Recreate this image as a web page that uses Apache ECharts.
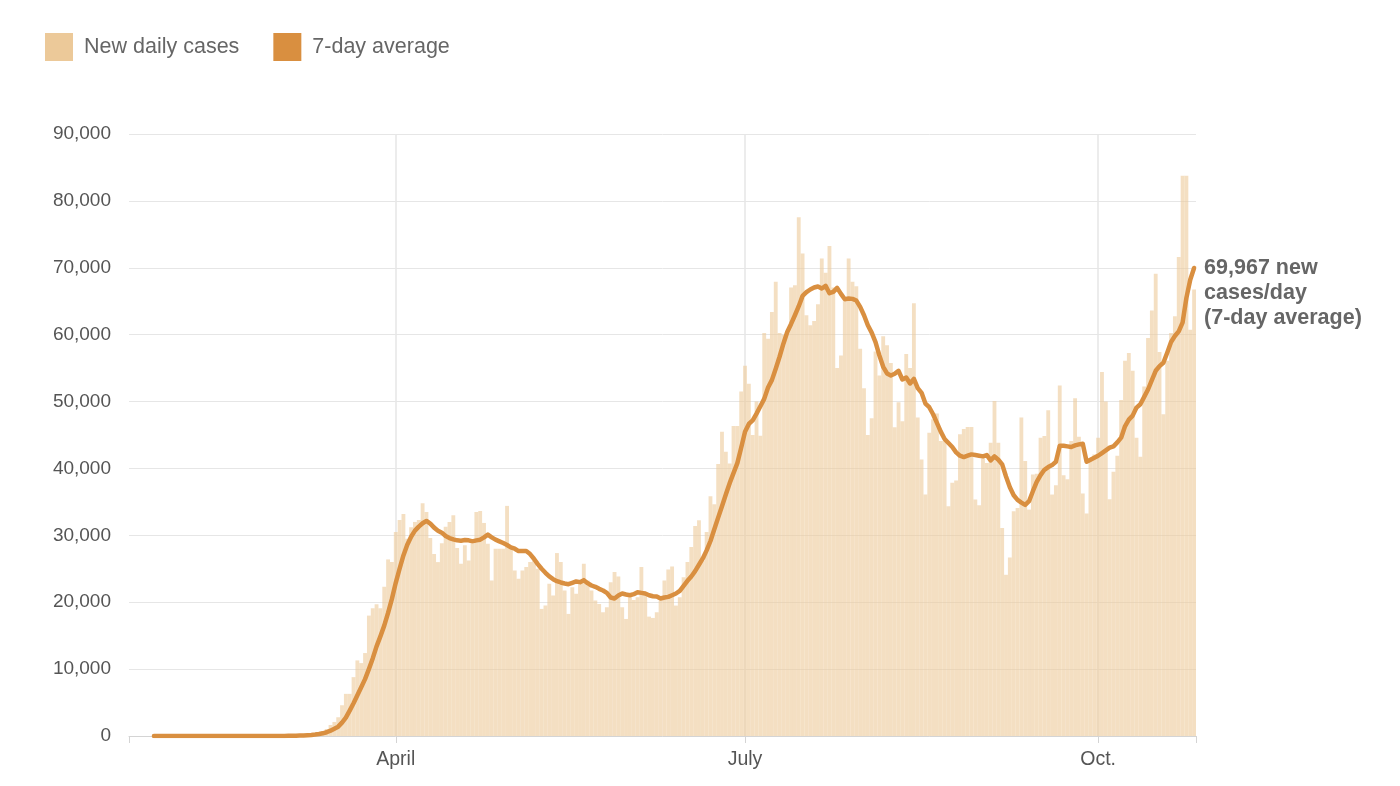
<!DOCTYPE html>
<html>
<head>
    <meta charset="utf-8">
    <title>New daily cases</title>
    <script src="https://cdn.jsdelivr.net/npm/echarts@6/dist/echarts.min.js"></script>
</head>
<style>
    *{
        padding: 0;
        margin: 0;
    }
    html, body {
        background: #fff;
    }
    #main {
        width: 1400px;
        height: 786px;
        position: absolute
    }
</style>
<body>
    <div id="main"></div>
    <script type="text/javascript">
    // first day on the axis, one bar per day after that
    var firstDay = '2020-01-23';

    // new daily cases, Jan 23 .. Oct 26
    var dailyCases = [
        1, 1, 3, 0, 0, 0, 1, 1, 1, 1,
        1, 0, 0, 2, 0, 0, 0, 0, 0, 1,
        1, 0, 0, 0, 0, 0, 0, 0, 0, 2,
        0, 0, 0, 4, 0, 0, 6, 2,
        20, 25, 22, 30, 74, 82, 108, 120, 180, 290, 400, 540,
        700, 1050, 1650, 2100, 2800, 4600, 6300, 6300, 8800, 11300,
        10900, 12400, 18000, 19100, 19700, 19100, 22300, 26400, 26000, 30500,
        32300, 33200, 29500, 31200, 32000, 32300, 34800, 33500, 29600, 27200,
        26000, 28800, 31300, 32000, 33000, 28100, 25750, 28500, 26250, 28750,
        33500, 33650, 31850, 28750, 23250, 28000, 28000, 28000, 34400, 28250,
        24750, 23500, 24750, 25250, 26000, 26250, 25000, 19000, 19500, 22750,
        21000, 27350, 26000, 21750, 18250, 22250, 21250, 23000, 25750, 23250,
        21750, 20250, 19750, 18500, 19250, 23000, 24500, 23850, 19250, 17500,
        20750, 20350, 20750, 25250, 21250, 17850, 17650, 18500, 20250, 23250,
        24900, 25350, 19500, 20750, 23750, 26000, 28250, 31400, 32250, 26250,
        30500, 35850, 34650, 40650, 45500, 42500, 40750, 46350, 46350, 51500,
        55350, 52650, 45000, 50000, 44900, 60250, 59400, 63400, 67900, 60250,
        60000, 60500, 67050, 67400, 77550, 72150, 62900, 61400, 62050, 64550,
        71400, 69250, 73250, 67050, 55000, 56900, 65000, 71400, 67900, 67250,
        57900, 52000, 45000, 47500, 57500, 53900, 59750, 58400, 55750, 46150,
        49900, 47050, 57100, 55000, 64700, 47600, 41350, 36100, 45350, 47350,
        48200, 44100, 44100, 34350, 37850, 38200, 45100, 45900, 46200, 46200,
        35350, 34500, 41500, 40800, 43850, 50100, 43850, 31100, 24100, 26700,
        33600, 34100, 47600, 41100, 33850, 39100, 39200, 44600, 44850, 48700,
        36100, 37500, 52400, 39000, 38400, 44100, 50500, 44750, 36250, 33250,
        41250, 42100, 44600, 54400, 50000, 35400, 39500, 41900, 50250, 56100,
        57250, 54600, 44600, 41750, 52250, 59500, 63600, 69100, 57400, 48100,
        56100, 60250, 62750, 71600, 83750, 83750, 60750, 66750
    ];

    // 7-day average as drawn (line begins a few days in)
    var weeklyAverage = [
        null, null, null, null, null, null,
        1, 1, 1, 1, 1, 1, 1, 1, 1, 1,
        1, 1, 1, 1, 1, 1, 1, 1, 1, 1,
        1, 1, 1, 1, 1, 1, 2, 2, 2, 3, 3, 4,
        10, 14, 18, 22, 32, 42, 60, 80, 110, 150, 210, 290,
        400, 560, 800, 1100, 1400, 2000, 2750, 3800, 4900, 6100,
        7300, 8500, 10000, 11600, 13400, 14900, 16500, 18400, 20500, 22900,
        25000, 27000, 28600, 29800, 30700, 31300, 31800, 32150, 31750, 31150,
        30700, 30400, 29900, 29600, 29400, 29250, 29200, 29300, 29250, 29100,
        29250, 29350, 29700, 30100, 29700, 29350, 29100, 28850, 28550, 28200,
        28000, 27650, 27650, 27650, 27200, 26500, 25700, 25000, 24400, 23850,
        23450, 23150, 22950, 22800, 22700, 22900, 23100, 23000, 23300, 22850,
        22500, 22300, 22000, 21750, 21400, 20700, 20550, 21000, 21300, 21150,
        21050, 21200, 21500, 21400, 21300, 21050, 20900, 20850, 20550, 20700,
        20800, 21050, 21300, 21700, 22450, 23200, 23850, 24650, 25600, 26550,
        27750, 29150, 30900, 32650, 34350, 36100, 37800, 39300, 40800, 43100,
        45500, 46650, 47200, 48200, 49300, 50400, 52100, 53200, 54900, 56700,
        58650, 60400, 61600, 62900, 64250, 65800, 66350, 66750, 67050, 67200,
        66900, 67300, 66200, 66400, 67000, 66100, 65300, 65400, 65350, 65100,
        64150, 62900, 61400, 60300, 58900, 56900, 55200, 54200, 53900, 54150,
        54600, 53300, 53600, 52700, 53400, 52000, 51300, 49700, 49150, 48100,
        46800, 45500, 44400, 43800, 43200, 42400, 41900, 41700, 41900, 42100,
        42000, 41900, 41800, 42000, 41200, 41800, 41300, 40600, 38800, 37200,
        36000, 35300, 34900, 34550, 35100, 36600, 38000, 39000, 39800, 40200,
        40500, 41000, 43400, 43400, 43300, 43200, 43450, 43600, 43700, 41000,
        41300, 41600, 41900, 42300, 42700, 43100, 43300, 43900, 44600, 46300,
        47300, 47900, 49100, 49600, 50700, 51800, 53200, 54600, 55300, 55800,
        57300, 58900, 59800, 60500, 61800, 65500, 68200, 69967
    ];

    // only these days get a label / tick / vertical grid line
    var monthLabels = {
        '2020-04-01': 'April',
        '2020-07-01': 'July',
        '2020-10-01': 'Oct.'
    };

    var categories = [];
    var d = new Date(firstDay + 'T00:00:00Z');
    for (var i = 0; i < dailyCases.length; i++) {
        categories.push(d.toISOString().slice(0, 10));
        d.setUTCDate(d.getUTCDate() + 1);
    }

    var isMonth = function (index, value) {
        return monthLabels.hasOwnProperty(value);
    };

    var font = 'Helvetica, Arial, "Liberation Sans", sans-serif';
    var barColor = '#ecc999';
    var lineColor = '#d98f40';

    var myChart = echarts.init(document.getElementById('main'));
    var option = {
        animation: false,
        textStyle: { fontFamily: font },
        legend: {
            left: 45,
            top: 33,
            padding: 0,
            itemWidth: 28,
            itemHeight: 28,
            itemGap: 34,
            icon: 'rect',
            selectedMode: false,
            textStyle: { fontSize: 21.5, color: '#666', fontFamily: font, padding: [0, 0, 0, 6] },
            data: [
                { name: 'New daily cases', itemStyle: { color: barColor, opacity: 1 } },
                { name: '7-day average', itemStyle: { color: lineColor } }
            ]
        },
        grid: {
            left: 129,
            right: 204,
            top: 134,
            bottom: 50
        },
        xAxis: [{
            type: 'category',
            data: categories,
            boundaryGap: true,
            axisLine: { lineStyle: { color: '#d4d4d4', width: 1 } },
            axisTick: {
                show: true,
                interval: isMonth,
                alignWithLabel: true,
                length: 7,
                lineStyle: { color: '#d4d4d4' }
            },
            axisLabel: {
                interval: isMonth,
                formatter: function (v) { return monthLabels[v] || ''; },
                color: '#555',
                fontSize: 19.5,
                margin: 14,
                fontFamily: font
            },
            splitLine: {
                show: true,
                interval: isMonth,
                alignWithLabel: true,
                lineStyle: { color: '#e6e6e6', width: 1.5 }
            }
        }, {
            // end ticks at both edges of the date range
            type: 'value',
            position: 'bottom',
            min: 0,
            max: 1,
            interval: 1,
            axisLine: { show: false },
            axisLabel: { show: false },
            splitLine: { show: false },
            axisTick: { show: true, length: 7, lineStyle: { color: '#d4d4d4' } }
        }],
        yAxis: {
            type: 'value',
            min: 0,
            max: 90000,
            interval: 10000,
            axisLine: { show: false },
            axisTick: { show: false },
            axisLabel: {
                color: '#555',
                fontSize: 19,
                margin: 18,
                fontFamily: font,
                formatter: function (v) { return v.toLocaleString('en-US'); }
            },
            splitLine: { lineStyle: { color: '#e6e6e6', width: 1 } }
        },
        series: [{
            name: 'New daily cases',
            type: 'bar',
            data: dailyCases,
            barCategoryGap: '0%',
            itemStyle: { color: barColor, opacity: 0.6 },
            emphasis: { disabled: true },
            z: 1
        }, {
            name: '7-day average',
            type: 'line',
            data: weeklyAverage,
            showSymbol: false,
            symbol: 'none',
            color: lineColor,
            lineStyle: { color: lineColor, width: 4.5, cap: 'round', join: 'round' },
            emphasis: { disabled: true },
            z: 3,
            endLabel: {
                show: true,
                formatter: function (p) {
                    return p.value.toLocaleString('en-US') + ' new\ncases/day\n(7-day average)';
                },
                color: '#666',
                fontWeight: 'bold',
                fontSize: 21.5,
                lineHeight: 25,
                fontFamily: font,
                distance: 10,
                offset: [0, 25]
            }
        }]
    };
    myChart.setOption(option);
    </script>
</body>
</html>
